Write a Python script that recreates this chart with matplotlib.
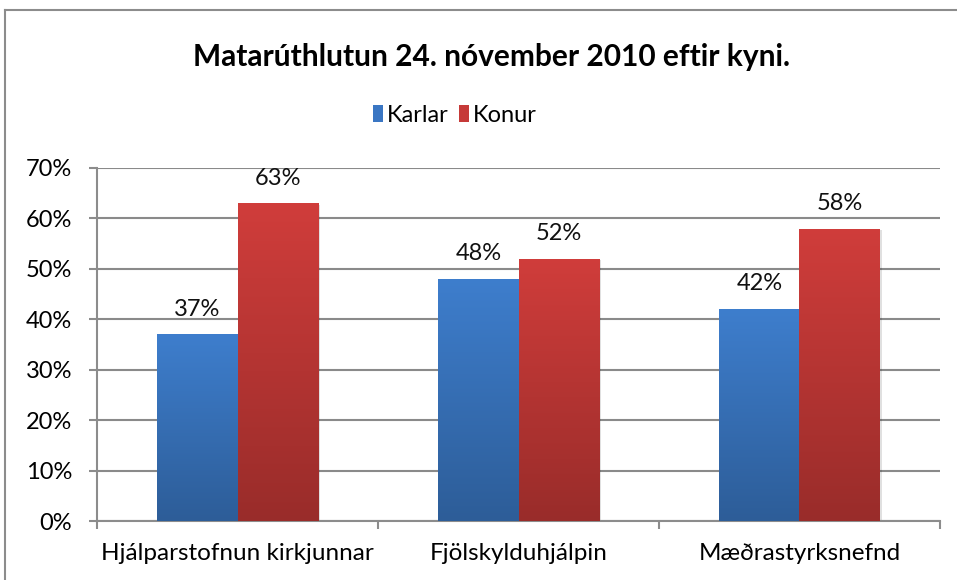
import numpy as np
import matplotlib
matplotlib.use("Agg")
import matplotlib.pyplot as plt
from matplotlib.colors import LinearSegmentedColormap
from matplotlib.lines import Line2D
from matplotlib.patches import Patch

plt.rcParams['font.family'] = ['Lato', 'DejaVu Sans']

flokkar = ["Hjálparstofnun kirkjunnar", "Fjölskylduhjálpin", "Mæðrastyrksnefnd"]
karlar = [37, 48, 42]
konur = [63, 52, 58]
y_ticks = [0, 10, 20, 30, 40, 50, 60, 70]

W, H = 957, 580
fig = plt.figure(figsize=(W / 100, H / 100), dpi=100)

# plot area in pixels: x 97..940, y 168..521
ax = fig.add_axes([97 / W, 1 - 521 / H, (940 - 97) / W, (521 - 168) / H])

# outer chart frame (only top and left visible)
grey = "#8c8c8c"
fig.add_artist(Line2D([5 / W, 1], [1 - 10 / H, 1 - 10 / H], color=grey, lw=1.5))
fig.add_artist(Line2D([5 / W, 5 / W], [0, 1 - 10 / H], color=grey, lw=1.5))

x = np.arange(len(flokkar))
bw = 0.286

blue_cm = LinearSegmentedColormap.from_list("b", ["#2d5d98", "#3e7ecd"])
red_cm = LinearSegmentedColormap.from_list("r", ["#992c2a", "#d03d3b"])

ax.set_xlim(-0.5, 2.5)
ax.set_ylim(0, 70)

def gradient_bars(xs, vals, cmap):
    bars = ax.bar(xs, vals, bw, color="none", zorder=3)
    grad = np.linspace(0, 1, 256).reshape(-1, 1)
    for b in bars:
        x0 = b.get_x()
        w, h = b.get_width(), b.get_height()
        # soft shadow
        ax.bar(x0 + w / 2 + 0.008, h, w, bottom=-0.3, color="#000000", alpha=0.12, zorder=2)
        im = ax.imshow(grad, extent=[x0, x0 + w, 0, h], origin="lower", cmap=cmap,
                       aspect="auto", zorder=3, interpolation="bilinear")
        im.set_clip_path(b)
    return bars

gradient_bars(x - bw / 2, karlar, blue_cm)
gradient_bars(x + bw / 2, konur, red_cm)

for xi, v in zip(x - bw / 2, karlar):
    ax.text(xi, v + 5.0, f"{v}%", ha="center", va="center", fontsize=17, color="#111111")
for xi, v in zip(x + bw / 2, konur):
    ax.text(xi, v + 5.0, f"{v}%", ha="center", va="center", fontsize=17, color="#111111")

ax.set_aspect("auto")
ax.set_xlim(-0.5, 2.5)
ax.set_ylim(0, 70)

ax.set_yticks(y_ticks)
ax.set_yticklabels([f"{t}%" for t in y_ticks], fontsize=17)
ax.yaxis.grid(True, color="#8a8a8a", lw=1.5, zorder=0)
ax.set_axisbelow(True)

ax.set_xticks(x)
ax.set_xticklabels(flokkar, fontsize=17.5)
ax.tick_params(axis="x", length=0, pad=16)
ax.set_xticks([-0.5, 0.5, 1.5, 2.5], minor=True)
ax.tick_params(axis="x", which="minor", length=6, color=grey, width=1.5)
ax.tick_params(axis="y", length=6, color=grey, width=1.5, pad=12)

for s in ["top", "right"]:
    ax.spines[s].set_visible(False)
for s in ["left", "bottom"]:
    ax.spines[s].set_color(grey)
    ax.spines[s].set_linewidth(1.5)

fig.text(491 / W, 1 - 57 / H, "Matarúthlutun 24. nóvember 2010 eftir kyni.",
         ha="center", va="center", fontsize=21.5, fontweight="bold")

handles = [Patch(facecolor="#3a76c3", label="Karlar"),
           Patch(facecolor="#c63a38", label="Konur")]
fig.legend(handles=handles, loc="center", bbox_to_anchor=(455 / W, 1 - 115 / H), ncol=2,
           frameon=False, fontsize=17, handlelength=0.42, handleheight=0.72,
           handletextpad=0.15, columnspacing=0.45, borderpad=0)

fig.savefig("out.png", dpi=100)
